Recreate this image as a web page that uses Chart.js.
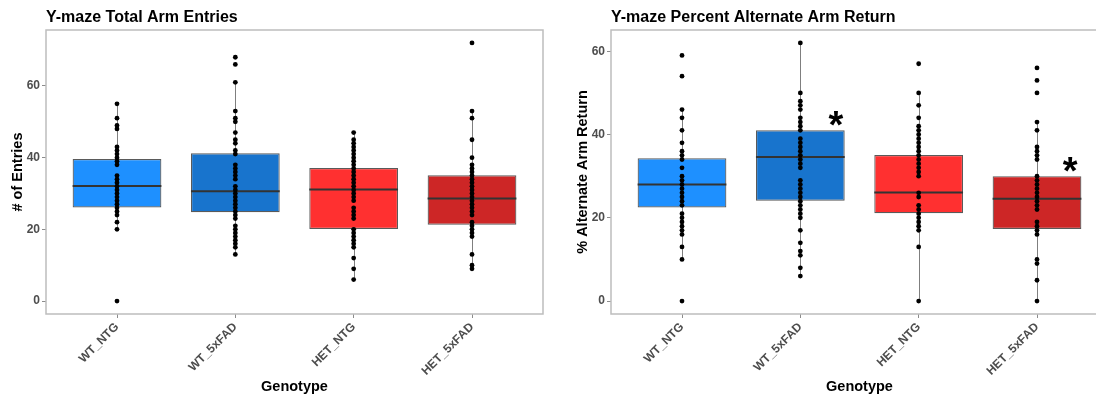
<!DOCTYPE html>
<html lang="en">
<head>
  <meta charset="UTF-8" />
  <title>Y-maze Arm Entries and Alternate Arm Return</title>
  <script src="https://cdn.jsdelivr.net/npm/chart.js"></script>
  <style>
    html, body { margin: 0; padding: 0; background: #fff; width: 1096px; height: 396px; overflow: hidden; }
    #entriesChart { position: absolute; left: 0; top: 0; }
    #returnChart { position: absolute; left: 548px; top: 0; }
  </style>
</head>
<body>
  <canvas id="entriesChart" width="548" height="396"></canvas>
  <canvas id="returnChart" width="570" height="396"></canvas>

  <script>
    // ---- data ----
    const genotypes = ["WT_NTG", "WT_5xFAD", "HET_NTG", "HET_5xFAD"];

    // Y-maze total arm entries (one array per genotype)
    const entriesWtNtg = [55, 51, 49, 48, 43, 42, 41, 40, 39, 38, 35, 34, 33, 32, 31, 30, 29, 28, 27, 26, 25, 24, 22, 20, 0];
    const entriesWt5x = [68, 66, 61, 53, 51, 50, 47, 45, 44, 42, 41, 38, 37, 36, 35, 34, 32, 31, 30, 29, 28, 27, 26, 25, 24, 23, 21, 20, 19, 18, 17, 16, 15, 13];
    const entriesHetNtg = [47, 45, 44, 43, 42, 41, 40, 39, 38, 37, 36, 35, 34, 33, 32, 31, 30, 29, 28, 26, 25, 24, 23, 20, 19, 18, 17, 16, 15, 12, 9, 6];
    const entriesHet5x = [72, 53, 51, 45, 40, 38, 37, 36, 35, 34, 33, 32, 31, 30, 29, 28, 27, 26, 25, 24, 22, 21, 20, 19, 18, 13, 10, 9];
    const entriesQ1 = [26.1, 24.8, 20.1, 21.3];
    const entriesMedian = [32.1, 30.6, 31.1, 28.6];
    const entriesQ3 = [39.6, 41.2, 37.1, 35.1];
    const entriesLow = [20, 13, 6, 9];
    const entriesHigh = [55, 61, 47, 53];
    const entriesTicks = [0, 20, 40, 60];

    // Y-maze percent alternate arm return
    const returnWtNtg = [59, 54, 46, 44, 41, 38, 36, 35, 34, 32, 30, 29, 28, 27, 26, 25, 24, 23, 21, 20, 19, 18, 17, 16, 13, 10, 0];
    const returnWt5x = [62, 50, 48, 47, 46, 44, 43, 42, 41, 39, 38, 37, 36, 35, 34, 33, 32, 29, 28, 27, 26, 25, 24, 23, 22, 21, 20, 17, 14, 12, 11, 8, 6];
    const returnHetNtg = [57, 50, 47, 44, 42, 41, 40, 39, 38, 37, 36, 35, 34, 33, 32, 31, 30, 26, 25, 23, 22, 21, 20, 19, 18, 17, 13, 0];
    const returnHet5x = [56, 53, 50, 43, 41, 37, 36, 35, 34, 30, 29, 28, 27, 26, 25, 24, 23, 22, 19, 18, 17, 16, 10, 9, 5, 0];
    const returnQ1 = [22.5, 24.1, 21.1, 17.3];
    const returnMedian = [28.0, 34.6, 26.1, 24.6];
    const returnQ3 = [34.3, 41.0, 35.1, 30.0];
    const returnLow = [10, 6, 0, 0];
    const returnHigh = [46, 62, 50, 43];
    const returnTicks = [0, 20, 40, 60];
    // significance stars (x in category units, y in data units)
    const returnStarX = [1.3, 3.28];
    const returnStarY = [43.75, 32.75];

    // ---- style ----
    const FONT = "'Liberation Sans', Arial, Helvetica, sans-serif";
    const boxColors = ["#1e90ff", "#1874cd", "#ff3030", "#cd2626"];
    Chart.defaults.font.family = FONT;

    function boxChart(canvasId, o) {
      const points = [];
      o.groups.forEach((vals, i) => vals.forEach(v => points.push({ x: i, y: v })));
      const boxes = o.q1.map((q, i) => ({ x: i, y: [q, o.q3[i]] }));

      const extras = {
        id: "boxExtras",
        beforeDatasetsDraw(chart) {
          const { ctx, scales: { x, y } } = chart;
          ctx.save();
          ctx.strokeStyle = "#7f7f7f";
          ctx.lineWidth = 1;
          o.low.forEach((lo, i) => {
            const px = Math.round(x.getPixelForValue(i)) + 0.5;
            ctx.beginPath();
            ctx.moveTo(px, y.getPixelForValue(lo));
            ctx.lineTo(px, y.getPixelForValue(o.high[i]));
            ctx.stroke();
          });
          ctx.restore();
        },
        afterDatasetDraw(chart, args) {
          if (args.index !== 1) return;
          const { ctx, scales: { x, y } } = chart;
          const half = 0.375;
          ctx.save();
          ctx.strokeStyle = "#333333";
          ctx.lineWidth = 2;
          o.median.forEach((m, i) => {
            const py = y.getPixelForValue(m);
            ctx.beginPath();
            ctx.moveTo(x.getPixelForValue(i - half), py);
            ctx.lineTo(x.getPixelForValue(i + half), py);
            ctx.stroke();
          });
          ctx.restore();
        },
        afterDraw(chart) {
          const { ctx, chartArea: a, scales: { x, y } } = chart;
          ctx.save();
          ctx.strokeStyle = "#bdbdbd";
          ctx.lineWidth = 1.5;
          ctx.strokeRect(a.left, a.top, a.right - a.left, a.bottom - a.top);

          ctx.fillStyle = "#000";
          ctx.font = "bold 16px " + FONT;
          ctx.textAlign = "left";
          ctx.textBaseline = "alphabetic";
          ctx.fillText(o.title, a.left, 22);

          if (o.starX) {
            ctx.font = "bold 38px " + FONT;
            ctx.textAlign = "center";
            const m = ctx.measureText("*");
            const shift = (m.actualBoundingBoxDescent - m.actualBoundingBoxAscent) / 2;
            o.starX.forEach((sx, i) => {
              ctx.fillText("*", x.getPixelForValue(sx), y.getPixelForValue(o.starY[i]) - shift);
            });
          }
          ctx.restore();
        }
      };

      return new Chart(document.getElementById(canvasId), {
        type: "bar",
        data: {
          datasets: [
            {
              type: "scatter",
              data: points,
              order: 1,
              pointRadius: 2.4,
              pointHoverRadius: 2.4,
              pointBackgroundColor: "#000",
              pointBorderWidth: 0
            },
            {
              data: boxes,
              order: 2,
              backgroundColor: boxColors,
              borderColor: "#5a5a5a",
              borderWidth: 1.2,
              borderSkipped: false,
              categoryPercentage: 1,
              barPercentage: 0.75
            }
          ]
        },
        options: {
          responsive: false,
          animation: false,
          events: [],
          layout: { padding: { left: o.padLeft, right: o.padRight, top: 30, bottom: 0 } },
          plugins: { legend: { display: false }, tooltip: { enabled: false } },
          scales: {
            x: {
              type: "linear",
              offset: false,
              min: -0.6,
              max: 3.6,
              afterBuildTicks: s => { s.ticks = genotypes.map((g, i) => ({ value: i })); },
              afterFit: s => { s.height = 82; },
              grid: { offset: false, drawOnChartArea: false, drawTicks: true, tickLength: 4, color: "#8c8c8c" },
              border: { display: false },
              ticks: {
                autoSkip: false,
                minRotation: 45,
                maxRotation: 45,
                padding: 2,
                color: "#4d4d4d",
                font: { size: 12, weight: "bold" },
                callback: v => genotypes[v]
              },
              title: {
                display: true,
                text: "Genotype",
                color: "#000",
                font: { size: 14.5, weight: "bold" },
                padding: { top: 0, bottom: 0 }
              }
            },
            y: {
              min: o.yMin,
              max: o.yMax,
              afterBuildTicks: s => { s.ticks = o.ticks.map(v => ({ value: v })); },
              afterFit: s => { s.width = 46; },
              grid: { drawOnChartArea: false, drawTicks: true, tickLength: 4, color: "#8c8c8c" },
              border: { display: false },
              ticks: { padding: 2, color: "#4d4d4d", font: { size: 12, weight: "bold" } },
              title: {
                display: true,
                text: o.yTitle,
                color: "#000",
                font: { size: 14.5, weight: "bold" },
                padding: { top: 9, bottom: 0 }
              }
            }
          }
        },
        plugins: [extras]
      });
    }

    boxChart("entriesChart", {
      title: "Y-maze Total Arm Entries",
      yTitle: "# of Entries",
      groups: [entriesWtNtg, entriesWt5x, entriesHetNtg, entriesHet5x],
      q1: entriesQ1, median: entriesMedian, q3: entriesQ3,
      low: entriesLow, high: entriesHigh,
      ticks: entriesTicks,
      yMin: -3.6, yMax: 75.6,
      padLeft: 0, padRight: 5
    });

    boxChart("returnChart", {
      title: "Y-maze Percent Alternate Arm Return",
      yTitle: "% Alternate Arm Return",
      groups: [returnWtNtg, returnWt5x, returnHetNtg, returnHet5x],
      q1: returnQ1, median: returnMedian, q3: returnQ3,
      low: returnLow, high: returnHigh,
      ticks: returnTicks,
      yMin: -3.1, yMax: 65.1,
      starX: returnStarX, starY: returnStarY,
      padLeft: 17, padRight: 10
    });
  </script>
</body>
</html>
